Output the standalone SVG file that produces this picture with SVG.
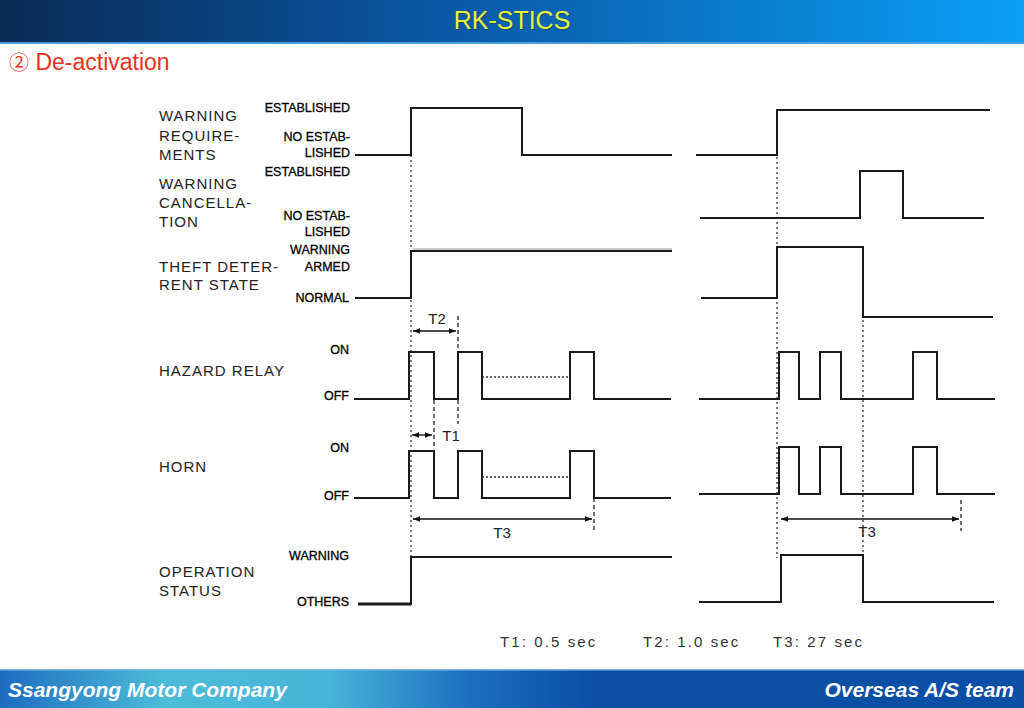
<svg xmlns="http://www.w3.org/2000/svg" width="1024" height="708" viewBox="0 0 1024 708">
<defs>
<linearGradient id="hdr" x1="0" y1="0" x2="1" y2="0">
<stop offset="0" stop-color="#0a2a55"/>
<stop offset="0.45" stop-color="#0a5aa8"/>
<stop offset="1" stop-color="#0aa0f5"/>
</linearGradient>
<linearGradient id="ftr" x1="0" y1="0" x2="1" y2="0">
<stop offset="0" stop-color="#1e6cc0"/>
<stop offset="0.16" stop-color="#4cbcd8"/>
<stop offset="0.32" stop-color="#48b4d8"/>
<stop offset="0.46" stop-color="#1c6ec0"/>
<stop offset="0.58" stop-color="#0a4ea6"/>
<stop offset="1" stop-color="#0a4ea6"/>
</linearGradient>
<marker id="ah" viewBox="0 0 10 10" refX="10" refY="5" markerWidth="7" markerHeight="7" orient="auto-start-reverse" markerUnits="userSpaceOnUse">
<path d="M0,1 L10,5 L0,9 z" fill="#111"/>
</marker>
<style>
.sig{fill:none;stroke:#1a1a1a;stroke-width:2}
.dot{fill:none;stroke:#555;stroke-width:1.6;stroke-dasharray:2,3}
.dash{fill:none;stroke:#222;stroke-width:1.3;stroke-dasharray:4,3}
.hdot{fill:none;stroke:#333;stroke-width:1.3;stroke-dasharray:2,2}
.arr{fill:none;stroke:#111;stroke-width:1.3}
.name{font-family:"Liberation Sans",Arial,sans-serif;font-size:15px;fill:#222;letter-spacing:1px}
.st{font-family:"Liberation Sans",Arial,sans-serif;font-size:12.5px;fill:#000;text-anchor:end;stroke:#000;stroke-width:0.3}
.tl{font-family:"Liberation Sans",Arial,sans-serif;font-size:15px;fill:#222}
.note{font-family:"Liberation Sans",Arial,sans-serif;font-size:15px;fill:#333;letter-spacing:2.1px}
.ft{font-family:"Liberation Sans",Arial,sans-serif;font-size:21px;font-weight:bold;font-style:italic;fill:#fff}
</style>
</defs>
<rect x="0" y="0" width="1024" height="708" fill="#fff"/>
<g id="header">
<rect x="0" y="0" width="1024" height="43" fill="url(#hdr)"/>
<rect x="0" y="42" width="1024" height="2" fill="#4a9ee0"/>
<text x="513" y="30" text-anchor="middle" font-family="Liberation Sans,Arial,sans-serif" font-size="25" fill="#1a3a10" opacity="0.5">RK-STICS</text>
<text x="512" y="29" text-anchor="middle" font-family="Liberation Sans,Arial,sans-serif" font-size="25" fill="#e8f23c">RK-STICS</text>
</g>
<g id="subtitle">
<text x="9" y="70" font-family="Liberation Sans,Arial,sans-serif" font-size="23" fill="#e8321e"><tspan font-family="Noto Sans CJK KR,sans-serif" font-size="20">②</tspan> De-activation</text>
</g>
<g id="labels">
<text class="name" x="159" y="121">WARNING</text>
<text class="name" x="159" y="141">REQUIRE-</text>
<text class="name" x="159" y="160">MENTS</text>
<text class="name" x="159" y="189">WARNING</text>
<text class="name" x="159" y="208">CANCELLA-</text>
<text class="name" x="159" y="227">TION</text>
<text class="name" x="159" y="272">THEFT DETER-</text>
<text class="name" x="159" y="290">RENT STATE</text>
<text class="name" x="159" y="376">HAZARD RELAY</text>
<text class="name" x="159" y="472">HORN</text>
<text class="name" x="159" y="577">OPERATION</text>
<text class="name" x="159" y="596">STATUS</text>
<text class="st" x="350" y="112">ESTABLISHED</text>
<text class="st" x="350" y="141">NO ESTAB-</text>
<text class="st" x="350" y="157">LISHED</text>
<text class="st" x="350" y="176">ESTABLISHED</text>
<text class="st" x="350" y="220">NO ESTAB-</text>
<text class="st" x="350" y="236">LISHED</text>
<text class="st" x="350" y="254">WARNING</text>
<text class="st" x="350" y="271">ARMED</text>
<text class="st" x="349" y="302">NORMAL</text>
<text class="st" x="349" y="354">ON</text>
<text class="st" x="349" y="400">OFF</text>
<text class="st" x="349" y="452">ON</text>
<text class="st" x="349" y="500">OFF</text>
<text class="st" x="349" y="560">WARNING</text>
<text class="st" x="349" y="606">OTHERS</text>
</g>
<g id="guides">
<line class="dot" x1="411" y1="110" x2="411" y2="562"/>
<line class="dot" x1="777" y1="112" x2="777" y2="558"/>
<line class="dot" x1="863" y1="300" x2="863" y2="558"/>
<line class="dash" x1="458" y1="316" x2="458" y2="424"/>
<line class="dash" x1="434" y1="400" x2="434" y2="448"/>
<line class="dash" x1="594" y1="498" x2="594" y2="531"/>
<line class="dash" x1="961" y1="500" x2="961" y2="531"/>
</g>
<g id="signals">
<path class="sig" d="M355,155 H411 V108 H522 V155 H672"/>
<path class="sig" d="M696,155 H777 V110 H990"/>
<path class="sig" d="M700,218 H860 V171 H903 V218 H984"/>
<path class="sig" d="M355,298 H411 V251 H672"/>
<line x1="413" y1="249" x2="672" y2="249" stroke="#999" stroke-width="1"/>
<path class="sig" d="M701,298 H777 V247 H863 V317 H993"/>
<path class="sig" d="M354,399 H409 V352 H434 V399 H458 V352 H482 V399 H570 V352 H594 V399 H671"/>
<line class="hdot" x1="482" y1="377" x2="570" y2="377"/>
<path class="sig" d="M699,399 H779 V352 H799 V399 H820 V352 H841 V399 H913 V352 H937 V399 H995"/>
<path class="sig" d="M354,498 H409 V451 H434 V498 H458 V451 H482 V498 H570 V451 H594 V498 H671"/>
<line class="hdot" x1="482" y1="477" x2="570" y2="477"/>
<path class="sig" d="M699,494 H779 V447 H799 V494 H820 V447 H841 V494 H913 V447 H937 V494 H995"/>
<path class="sig" d="M358,604 H411 V557 H672"/>
<line x1="358" y1="604" x2="411" y2="604" stroke="#1a1a1a" stroke-width="3"/>
<path class="sig" d="M699,602 H781 V555 H863 V602 H994"/>
</g>
<g id="connectors">
<line class="arr" x1="413" y1="331" x2="456" y2="331" marker-start="url(#ah)" marker-end="url(#ah)"/>
<line class="arr" x1="412" y1="435" x2="432" y2="435" marker-start="url(#ah)" marker-end="url(#ah)"/>
<line class="arr" x1="413" y1="519" x2="592" y2="519" marker-start="url(#ah)" marker-end="url(#ah)"/>
<line class="arr" x1="781" y1="519" x2="959" y2="519" marker-start="url(#ah)" marker-end="url(#ah)"/>
<text class="tl" x="437" y="324" text-anchor="middle">T2</text>
<text class="tl" x="451" y="441" text-anchor="middle">T1</text>
<text class="tl" x="502" y="538" text-anchor="middle">T3</text>
<text class="tl" x="867" y="537" text-anchor="middle">T3</text>
</g>
<g id="notes">
<text class="note" x="500" y="647">T1: 0.5 sec</text>
<text class="note" x="643" y="647">T2: 1.0 sec</text>
<text class="note" x="773" y="647">T3: 27 sec</text>
</g>
<g id="footer">
<rect x="0" y="670" width="1024" height="38" fill="url(#ftr)"/>
<rect x="0" y="669" width="1024" height="1.5" fill="#7ab8e8"/>
<text class="ft" x="8" y="697">Ssangyong Motor Company</text>
<text class="ft" x="1014" y="697" text-anchor="end">Overseas A/S team</text>
</g>
</svg>
